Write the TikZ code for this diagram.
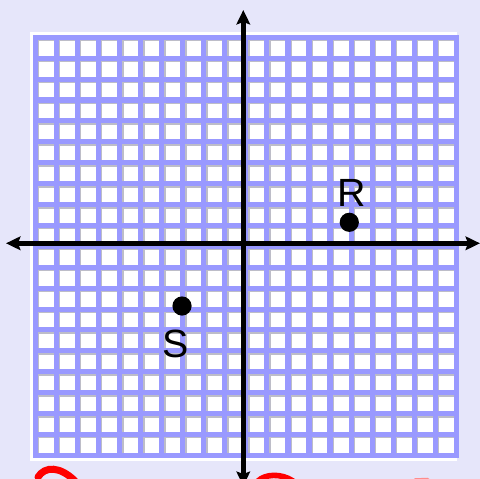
\documentclass[tikz,border=0pt]{standalone}
\usepackage{fontspec}
\setmainfont{Liberation Sans}
\usepackage{xcolor}
\usepackage{tikz}
\usetikzlibrary{positioning,arrows.meta}

\definecolor{bgback}{HTML}{E6E6FA}
\definecolor{gridline}{HTML}{9999FF}
\definecolor{cellshade}{HTML}{BDBDC8}

\begin{document}
\begin{tikzpicture}[x=0.025cm, y=-0.025cm,
  cellface/.style={fill=white},
  celledge/.style={draw=cellshade, line width=1pt},
  axisline/.style={line width=3.3pt, {Stealth[length=0.36cm, width=0.34cm, inset=0.06cm]}-{Stealth[length=0.36cm, width=0.34cm, inset=0.06cm]}},
  pt/.style={circle, fill=black, minimum size=0.48cm, inner sep=0pt},
  ptlbl/.style={font=\fontsize{28}{32}\selectfont, inner sep=0pt},
  inkstroke/.style={draw=red, line width=5pt, line cap=round}
]

\useasboundingbox (0,0) rectangle (480,479);
\clip (0,0) rectangle (480,479);
\fill[bgback] (0,0) rectangle (480,479);

% grid sheet
\fill[white] (30,32) rectangle (457,461);
\fill[gridline] (33,35) rectangle (459,458);
\foreach \i in {0,...,19}{
  \foreach \j in {0,...,19}{
    \fill[cellface] ({38.6+21.05*\i},{40.6+20.9*\j}) rectangle ++(15.2,15.1);
    \draw[celledge] ({38.6+21.05*\i},{40.6+20.9*\j+15.1}) |- ++(15.2,-15.1);
  }
}

% axes
\coordinate (xl) at (6,243.3);
\coordinate (xr) at (480,243.3);
\coordinate (yt) at (243.3,10);
\coordinate (yb) at (243.3,486);
\draw[axisline] (xl) -- (xr);
\draw[axisline] (yb) -- (yt);

% points
\node[pt] (R) at (349.3,222.3) {};
\node[pt] (S) at (182,306) {};
\node[ptlbl, above=0.14cm of R, xshift=0.06cm] (Rlbl) {R};
\node[ptlbl, below=0.34cm of S, xshift=-0.15cm] (Slbl) {S};

% red ink at the bottom edge
\draw[inkstroke] (38,477) .. controls (45,466) and (60,466) .. (75,481);
\draw[inkstroke, line width=4pt] (258,481) .. controls (265,474) and (281,473) .. (293,481);
\draw[inkstroke, draw=red!45, line width=2.5pt] (415,480) -- (428,479.5);

\end{tikzpicture}
\end{document}
